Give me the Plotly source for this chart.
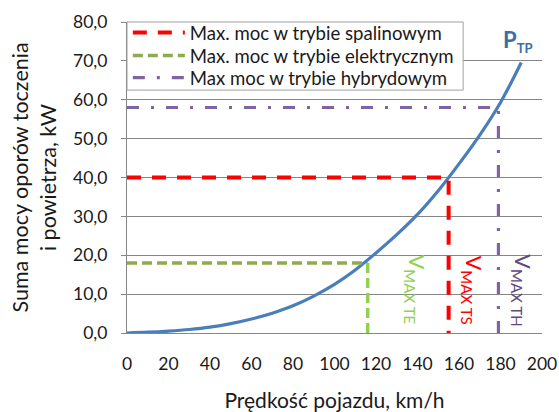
import plotly.graph_objects as go

# Curve: power of rolling + air resistance vs speed
speed = [0, 10, 20, 30, 40, 50, 60, 70, 80, 90, 100, 110, 120, 130, 140, 150, 160, 170, 180, 190]
power = [0.0, 0.2, 0.5, 0.9, 1.5, 2.4, 3.6, 5.1, 7.0, 9.5, 12.5, 16.2, 20.6, 25.3, 30.5, 36.6, 43.5, 50.9, 59.3, 69.6]

# Max power in each mode (kW) and corresponding max speed (km/h)
p_spal, v_spal = 40.0, 155
p_elek, v_elek = 18.0, 116
p_hyb, v_hyb = 58.0, 179

x_ticks = [0, 20, 40, 60, 80, 100, 120, 140, 160, 180, 200]
y_ticks = [0, 10, 20, 30, 40, 50, 60, 70, 80]

FONT = "Lato, sans-serif"

fig = go.Figure()

fig.add_trace(go.Scatter(x=speed, y=power, mode="lines", showlegend=False,
                         line=dict(color="#4A7EBB", width=3.2, shape="spline", smoothing=1.0),
                         hoverinfo="skip"))

# red: combustion mode
fig.add_trace(go.Scatter(x=[0, v_spal, v_spal], y=[p_spal, p_spal, 0], mode="lines",
                         name="Max. moc w trybie spalinowym", legend="legend",
                         line=dict(color="#FF0000", width=4, dash="14px,11px")))
# green: electric mode
fig.add_trace(go.Scatter(x=[0, v_elek], y=[p_elek, p_elek], mode="lines",
                         name="Max. moc w trybie elektrycznym", legend="legend2",
                         line=dict(color="#8FAA4F", width=3.5, dash="10px,5px")))
fig.add_trace(go.Scatter(x=[v_elek, v_elek], y=[p_elek, 0], mode="lines", showlegend=False,
                         line=dict(color="#92D050", width=3.5, dash="10px,5px")))
# purple: hybrid mode
fig.add_trace(go.Scatter(x=[0, v_hyb, v_hyb], y=[p_hyb, p_hyb, 0], mode="lines",
                         name="Max moc w trybie hybrydowym", legend="legend3",
                         line=dict(color="#7E64A0", width=3.2, dash="12px,12px,3px,12px")))

annots = [
    dict(x=139, y=11, text="V<sub>MAX TE</sub>", color="#92D050"),
    dict(x=166.5, y=11, text="V<sub>MAX TS</sub>", color="#FF0000"),
    dict(x=190.3, y=11, text="V<sub>MAX TH</sub>", color="#604A7B"),
]
for a in annots:
    fig.add_annotation(x=a["x"], y=a["y"], text=a["text"], showarrow=False, textangle=90,
                       font=dict(family=FONT, size=21.5, color=a["color"]))

fig.add_annotation(x=188.4, y=75, showarrow=False,
                   text="<b>P<sub><span style='font-size:13px'>TP</span></sub></b>",
                   font=dict(family=FONT, size=22, color="#3A6EA8"))

# legend frame (white box with grey border), entries placed inside it
fig.add_shape(type="rect", xref="paper", yref="paper", x0=0, x1=0.81, y0=0.781, y1=1.0,
              fillcolor="white", line=dict(color="#A0A0A0", width=1), layer="above")

leg_common = dict(x=0.002, xanchor="left", yanchor="middle", bgcolor="rgba(0,0,0,0)",
                  borderwidth=0, font=dict(family=FONT, size=18.6, color="#1a1a1a"),
                  itemwidth=52)

fig.update_layout(
    width=559, height=412,
    margin=dict(l=127, r=17, t=22, b=79),
    paper_bgcolor="white", plot_bgcolor="white",
    separators=", ",
    font=dict(family=FONT, size=17.5, color="#1a1a1a"),
    legend=dict(y=0.965, **leg_common),
    legend2=dict(y=0.891, **leg_common),
    legend3=dict(y=0.820, **leg_common),
    xaxis=dict(range=[0, 200], tickvals=x_ticks, showgrid=False, zeroline=False,
               showline=True, linecolor="#868686", linewidth=1, ticks="",
               ticklabelstandoff=15, automargin=False,
               title=dict(text="Prędkość pojazdu, km/h", font=dict(size=21), standoff=27)),
    yaxis=dict(range=[0, 80], tickvals=y_ticks, tickformat=".1f", showgrid=True,
               gridcolor="#868686", gridwidth=1, zeroline=False,
               showline=True, linecolor="#868686", linewidth=1,
               ticks="outside", ticklen=5, tickcolor="#868686",
               ticklabelstandoff=10, automargin=False,
               title=dict(text="Suma mocy oporów toczenia<br>i powietrza, kW",
                          font=dict(size=21.5), standoff=10)),
)

# remove the browser's default 8px page margin so the figure sits at the window origin
fig.write_html("out.html", config={"displayModeBar": False},
               post_script="document.body.style.margin='0';document.body.style.overflow='hidden';")
